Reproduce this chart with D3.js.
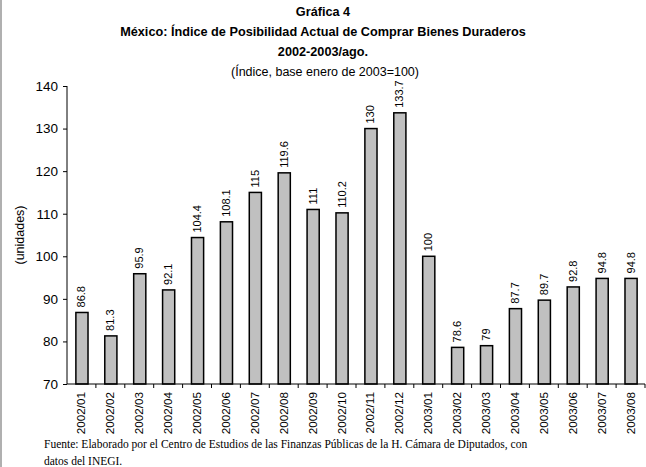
<!DOCTYPE html>
<html>
<head>
<meta charset="utf-8">
<script src="https://cdn.jsdelivr.net/npm/d3@7"></script>
<style>
    body { margin: 0; background: #fff; }
    svg { display: block; }
</style>
</head>
<body>
<div id="chart-area"></div>
<script>
// Data
let months = ["2002/01", "2002/02", "2002/03", "2002/04", "2002/05", "2002/06", "2002/07",
    "2002/08", "2002/09", "2002/10", "2002/11", "2002/12", "2003/01", "2003/02",
    "2003/03", "2003/04", "2003/05", "2003/06", "2003/07", "2003/08"];
let values = [86.8, 81.3, 95.9, 92.1, 104.4, 108.1, 115, 119.6, 111, 110.2, 130, 133.7,
    100, 78.6, 79, 87.7, 89.7, 92.8, 94.8, 94.8];
let yTicks = [70, 80, 90, 100, 110, 120, 130, 140];

let titleLines = ["Gráfica 4",
    "México: Índice de Posibilidad Actual de Comprar Bienes Duraderos",
    "2002-2003/ago."];
let subtitle = "(Índice, base enero de 2003=100)";
let source = ["Fuente: Elaborado por el Centro de Estudios de las Finanzas Públicas de la H. Cámara de Diputados, con",
    "datos del INEGI."];

let W = 646, H = 467;
let plot = { left: 67, right: 645, top: 86, bottom: 384 };

let svg = d3.select("#chart-area").append("svg")
    .attr("width", W)
    .attr("height", H);

// page edge line on the left
svg.append("line")
    .attr("x1", 1).attr("x2", 1)
    .attr("y1", 0).attr("y2", H)
    .attr("stroke", "#b0b0b0")
    .attr("stroke-width", 2);

// titles
let font = "Liberation Sans, Arial, sans-serif";
titleLines.forEach(function (t, i) {
    svg.append("text")
        .attr("x", 323)
        .attr("y", 16 + i * 20)
        .attr("text-anchor", "middle")
        .style("font-family", font)
        .style("font-size", "12.7px")
        .style("font-weight", "bold")
        .text(t);
});
svg.append("text")
    .attr("x", 325)
    .attr("y", 76)
    .attr("text-anchor", "middle")
    .style("font-family", font)
    .style("font-size", "12.5px")
    .text(subtitle);

// scales
let x = d3.scaleBand()
    .domain(months)
    .range([plot.left, plot.right])
    .paddingInner(0.58)
    .paddingOuter(0.29);

let xTick = d3.scaleBand()
    .domain(months)
    .range([plot.left, plot.right]);

let y = d3.scaleLinear()
    .domain([70, 140])
    .range([plot.bottom, plot.top]);

// bars
svg.selectAll(".bar")
    .data(values)
    .enter().append("rect")
    .attr("class", "bar")
    .attr("x", (d, i) => x(months[i]) + 0.5)
    .attr("y", d => y(d))
    .attr("width", x.bandwidth())
    .attr("height", d => plot.bottom - y(d))
    .attr("fill", "#c0c0c0")
    .attr("stroke", "#000")
    .attr("stroke-width", 1.5);

// value labels
svg.selectAll(".val")
    .data(values)
    .enter().append("text")
    .attr("class", "val")
    .attr("transform", (d, i) => "translate(" + (x(months[i]) + x.bandwidth() / 2 + 4) + "," + (y(d) - 5) + ") rotate(-90)")
    .style("font-family", font)
    .style("font-size", "11px")
    .text(d => d);

// y axis
let yAxis = d3.axisLeft(y)
    .tickValues(yTicks)
    .tickSize(4)
    .tickPadding(5);

let yAxisGroup = svg.append("g")
    .attr("transform", "translate(" + plot.left + ",0)")
    .call(yAxis);
yAxisGroup.select(".domain").attr("d", "M0," + plot.top + "V" + plot.bottom);
yAxisGroup.selectAll("text")
    .style("font-family", font)
    .style("font-size", "13.5px")
    .attr("fill", "#000");

// x axis with ticks between categories
let xAxisGroup = svg.append("g")
    .attr("transform", "translate(0," + plot.bottom + ")");
xAxisGroup.append("line")
    .attr("x1", plot.left).attr("x2", plot.right)
    .attr("stroke", "#000");
xAxisGroup.selectAll(".tk")
    .data(months)
    .enter().append("line")
    .attr("class", "tk")
    .attr("x1", d => xTick(d) + xTick.bandwidth())
    .attr("x2", d => xTick(d) + xTick.bandwidth())
    .attr("y1", 0).attr("y2", 4)
    .attr("stroke", "#000");
xAxisGroup.selectAll(".lbl")
    .data(months)
    .enter().append("text")
    .attr("class", "lbl")
    .attr("transform", d => "translate(" + (xTick(d) + xTick.bandwidth() / 2 + 4) + ",8) rotate(-90)")
    .attr("text-anchor", "end")
    .style("font-family", font)
    .style("font-size", "11.7px")
    .text(d => d);

// y axis title
svg.append("text")
    .attr("transform", "translate(24," + ((plot.top + plot.bottom) / 2) + ") rotate(-90)")
    .attr("text-anchor", "middle")
    .style("font-family", font)
    .style("font-size", "12.5px")
    .text("(unidades)");

// source note
source.forEach(function (t, i) {
    svg.append("text")
        .attr("x", 44)
        .attr("y", 448 + i * 17)
        .style("font-family", "Liberation Serif, Times New Roman, serif")
        .style("font-size", "11.5px")
        .text(t);
});
</script>
</body>
</html>
